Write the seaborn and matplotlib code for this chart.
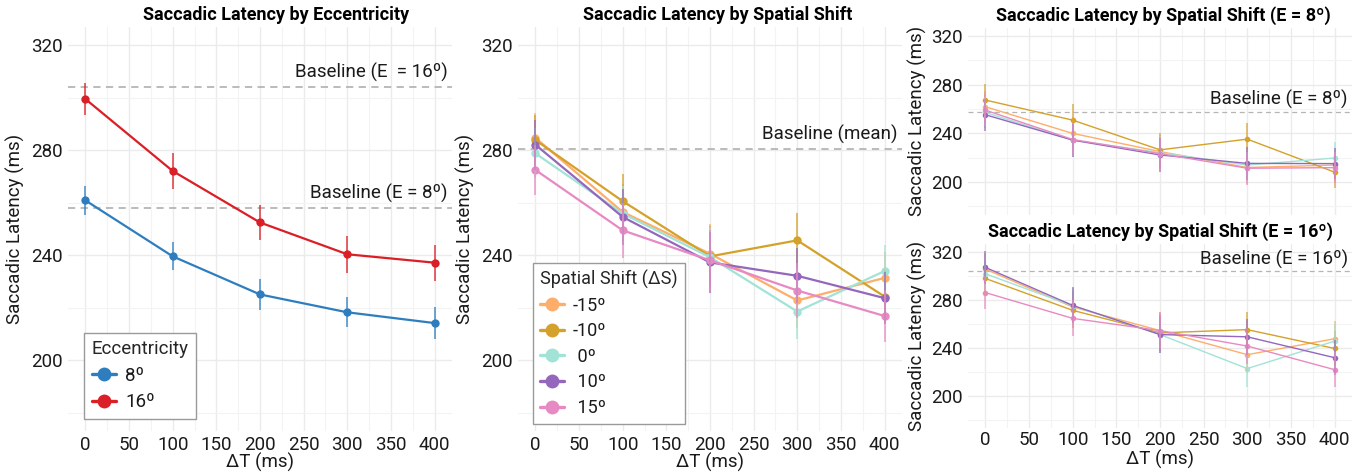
import numpy as np
import pandas as pd
import matplotlib
matplotlib.use('Agg')
import matplotlib.pyplot as plt
from matplotlib.lines import Line2D
from matplotlib.ticker import MultipleLocator
import seaborn as sns

# ---- data ----
DT = [0, 100, 200, 300, 400]

ECC_LABELS = ['8º', '16º']
ecc8 = [260.8, 239.5, 225.0, 218.2, 214.1]
ecc8_err = [5.6, 5.3, 6.0, 5.7, 6.0]
ecc16 = [299.4, 272.0, 252.4, 240.3, 237.1]
ecc16_err = [6.2, 6.7, 6.6, 7.0, 6.8]

BASE_8 = 258.0
BASE_16 = 304.1
BASE_MEAN = 280.4

SHIFT_LABELS = ['-15º', '-10º', ' 0º', ' 10º', ' 15º']
# all eccentricities pooled
all_m15 = [284.6, 256.4, 240.5, 222.7, 231.3]
all_m10 = [283.8, 260.5, 239.5, 245.6, 224.2]
all_z0 = [278.7, 255.8, 239.2, 218.5, 233.9]
all_p10 = [282.0, 254.5, 237.2, 232.1, 223.6]
all_p15 = [272.4, 249.4, 238.0, 226.5, 216.8]
all_err = [9.5, 10.5, 11.5, 10.5, 10.0]

# E = 8
e8_m15 = [261.9, 240.0, 225.1, 212.0, 214.0]
e8_m10 = [267.4, 250.9, 226.5, 235.3, 208.2]
e8_z0 = [257.2, 234.5, 224.2, 214.0, 219.8]
e8_p10 = [255.3, 234.5, 222.3, 215.4, 215.2]
e8_p15 = [259.1, 235.0, 223.4, 211.4, 211.9]
e8_err = [13.0, 13.5, 14.0, 13.5, 13.0]

# E = 16
e16_m15 = [305.6, 274.0, 254.3, 234.2, 247.5]
e16_m10 = [297.8, 271.2, 252.4, 255.1, 239.4]
e16_z0 = [301.7, 275.0, 251.0, 222.6, 245.5]
e16_p10 = [307.0, 275.3, 251.0, 249.1, 231.7]
e16_p15 = [286.0, 264.5, 254.3, 241.4, 221.7]
e16_err = [13.5, 15.0, 15.5, 15.0, 14.5]

ECC_COLORS = ['#2E7EBF', '#DA1F26']
SHIFT_COLORS = ['#FDAE6B', '#D4A12A', '#A1E3D6', '#9467BD', '#E78AC3']

sns.set_style('white')
plt.rcParams['font.family'] = ['Roboto', 'DejaVu Sans']
TXT = '#1a1a1a'

W, H = 1362, 473
fig = plt.figure(figsize=(W / 100, H / 100), dpi=100)


def box(l, t, r, b):
    return [l / W, 1 - b / H, (r - l) / W, (b - t) / H]


def long_df(series, labels, errs):
    rows = []
    for lab, vals, err in zip(labels, series, errs):
        for x, v, e in zip(DT, vals, err):
            rows.append({'dt': x, 'lat': v, 'err': e, 'group': lab})
    return pd.DataFrame(rows)


def style_axis(ax, xlabels=True, xpad=3.5):
    ax.set_xlim(-20, 420)
    ax.set_ylim(173, 327)
    ax.xaxis.set_major_locator(MultipleLocator(50))
    ax.xaxis.set_minor_locator(MultipleLocator(25))
    ax.yaxis.set_minor_locator(MultipleLocator(20))
    ax.set_yticks([200, 240, 280, 320])
    ax.grid(which='major', color='#EBEBEB', lw=1.0)
    ax.grid(which='minor', color='#F3F3F3', lw=0.8)
    ax.set_axisbelow(True)
    for s in ax.spines.values():
        s.set_visible(False)
    ax.tick_params(which='both', length=0, labelsize=13.5,
                   labelcolor=TXT, pad=3.5)
    ax.tick_params(axis='x', pad=xpad)
    if not xlabels:
        ax.tick_params(axis='x', labelbottom=False)


def draw(ax, df, palette, lw, ms, elw):
    sns.lineplot(data=df, x='dt', y='lat', hue='group', palette=palette,
                 marker='o', markersize=ms, markeredgewidth=0,
                 linewidth=lw, errorbar=None, legend=False, ax=ax)
    for lab, c in palette.items():
        sub = df[df['group'] == lab]
        ax.errorbar(sub['dt'], sub['lat'], yerr=sub['err'], fmt='none',
                    ecolor=c, elinewidth=elw, alpha=0.75, capsize=0)


def baseline(ax, y, text, lw):
    ax.axhline(y, color='#B5B5B5', lw=lw, ls=(0, (4, 3)), zorder=1)
    ax.text(415, y + 1.8, text, ha='right', va='bottom',
            fontsize=13.5, color=TXT)


def legend(ax, labels, colors, title, anchor, size, spacing):
    handles = [Line2D([], [], color=c, marker='o', markersize=10,
                      lw=2.4, markeredgewidth=0) for c in colors]
    lg = ax.legend(handles, labels, title=title, loc='lower left',
                   bbox_to_anchor=anchor, borderaxespad=0,
                   fontsize=size, title_fontsize=size,
                   labelspacing=spacing, handlelength=1.3,
                   handletextpad=0.5, fancybox=False, framealpha=1,
                   edgecolor='#9A9A9A', alignment='left')
    lg.get_frame().set_linewidth(1.0)
    for t in lg.get_texts():
        t.set_color(TXT)


def labels(ax, xlab, xy, yx):
    if xlab:
        ax.set_xlabel('ΔT (ms)', fontsize=13.5, color=TXT)
        ax.xaxis.set_label_coords(0.5, xy)
    else:
        ax.set_xlabel('')
    ax.set_ylabel('Saccadic Latency (ms)', fontsize=13.5, color=TXT)
    ax.yaxis.set_label_coords(yx, 0.5)


def title(x, y, text):
    fig.text(x / W, 1 - y / H, text, ha='center', va='center',
             fontsize=13, fontweight='bold', color='black')


# ---- panel 1: eccentricity ----
ax1 = fig.add_axes(box(68, 26.6, 452, 431))
style_axis(ax1)
df1 = long_df([ecc8, ecc16], ECC_LABELS, [ecc8_err, ecc16_err])
baseline(ax1, BASE_16, 'Baseline (E  = 16º)', 1.3)
baseline(ax1, BASE_8, 'Baseline (E = 8º)', 1.3)
draw(ax1, df1, dict(zip(ECC_LABELS, ECC_COLORS)), 1.6, 6, 1.3)
labels(ax1, True, -0.055, -0.112)
legend(ax1, ECC_LABELS, ECC_COLORS, 'Eccentricity', (0.042, 0.03), 13.5, 0.45)
title(276, 15, 'Saccadic Latency by Eccentricity')

# ---- panel 2: spatial shift ----
ax2 = fig.add_axes(box(518, 26.6, 902, 431))
style_axis(ax2)
df2 = long_df([all_m15, all_m10, all_z0, all_p10, all_p15], SHIFT_LABELS,
              [all_err] * 5)
baseline(ax2, BASE_MEAN, 'Baseline (mean)', 1.3)
draw(ax2, df2, dict(zip(SHIFT_LABELS, SHIFT_COLORS)), 1.6, 6, 1.3)
labels(ax2, True, -0.055, -0.112)
legend(ax2, SHIFT_LABELS, SHIFT_COLORS, 'Spatial Shift (ΔS)',
       (0.039, 0.017), 13, 0.42)
title(718, 15, 'Saccadic Latency by Spatial Shift')

# ---- panel 3: E = 8 ----
ax3 = fig.add_axes(box(968, 27.5, 1352, 215))
style_axis(ax3, xlabels=False)
df3 = long_df([e8_m15, e8_m10, e8_z0, e8_p10, e8_p15], SHIFT_LABELS,
              [e8_err] * 5)
baseline(ax3, BASE_8, 'Baseline (E = 8º)', 0.9)
draw(ax3, df3, dict(zip(SHIFT_LABELS, SHIFT_COLORS)), 1.0, 4, 1.2)
labels(ax3, False, 0, -0.107)
title(1163, 16, 'Saccadic Latency by Spatial Shift (E = 8º)')

# ---- panel 4: E = 16 ----
ax4 = fig.add_axes(box(968, 243.5, 1352, 428))
style_axis(ax4, xpad=2.0)
df4 = long_df([e16_m15, e16_m10, e16_z0, e16_p10, e16_p15], SHIFT_LABELS,
              [e16_err] * 5)
baseline(ax4, BASE_16, 'Baseline (E = 16º)', 0.9)
draw(ax4, df4, dict(zip(SHIFT_LABELS, SHIFT_COLORS)), 1.0, 4, 1.2)
labels(ax4, True, -0.12, -0.107)
title(1160, 232, 'Saccadic Latency by Spatial Shift (E = 16º)')

fig.savefig('out.png', dpi=100, facecolor='white')
